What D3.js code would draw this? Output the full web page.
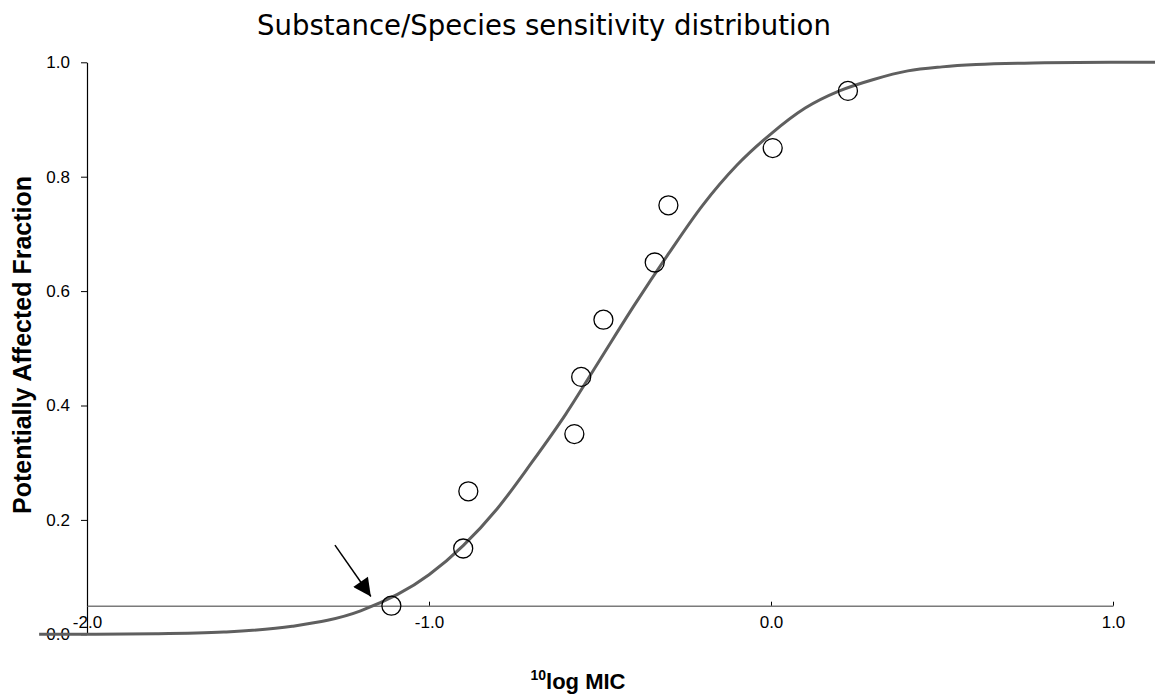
<!DOCTYPE html>
<html>
<head>
<meta charset="utf-8">
<script src="https://cdn.jsdelivr.net/npm/d3@7"></script>
<style>
  html, body { margin: 0; padding: 0; background: #fff; }
  svg { display: block; }
</style>
</head>
<body>
<svg id="chart" width="1155" height="695"></svg>
<script>
// ---- data ----
const titleText = "Substance/Species sensitivity distribution";
const yLabelText = "Potentially Affected Fraction";
const xLabelSup = "10";
const xLabelMain = "log MIC";

const xTicks = [-2, -1, 0, 1];
const yTicks = [0, 0.2, 0.4, 0.6, 0.8, 1.0];

// observed species points
const obsLogMIC   = [-1.11, -0.90, -0.885, -0.575, -0.555, -0.49, -0.34, -0.30, 0.005, 0.225];
const obsFraction = [0.05, 0.15, 0.25, 0.35, 0.45, 0.55, 0.65, 0.75, 0.85, 0.95];

// fitted distribution curve
const curveLogMIC   = [-2.14, -2.0, -1.8, -1.6, -1.4, -1.2, -1.0, -0.9, -0.8, -0.7, -0.6, -0.5, -0.4, -0.3, -0.2, -0.1, 0.0, 0.1, 0.2, 0.3, 0.4, 0.5, 0.6, 0.8, 1.0, 1.123];
const curveFraction = [0.0, 0.0002, 0.001, 0.004, 0.014, 0.041, 0.104, 0.155, 0.22, 0.30, 0.385, 0.48, 0.575, 0.665, 0.75, 0.82, 0.875, 0.92, 0.95, 0.97, 0.985, 0.992, 0.996, 0.999, 1.0, 1.0];

// HC5 level where the horizontal axis crosses
const hcLevel = [0.05];
// arrow pointing at HC5 (start, tip) in data units
const arrowLogMIC   = [-1.275, -1.170];
const arrowFraction = [0.156, 0.066];

// ---- chart ----
const svg = d3.select("#chart");
const x = d3.scaleLinear().domain([-2, 1]).range([87, 1113]);
const y = d3.scaleLinear().domain([0, 1]).range([634.3, 62.3]);
const fmt = d => d3.format(".1f")(d).replace("\u2212", "-");

// title
const title = svg.append("text")
  .attr("x", 544).attr("y", 35)
  .attr("text-anchor", "middle")
  .style("font-family", "'DejaVu Sans', sans-serif")
  .style("font-size", "26px")
  .style("fill", "#000")
  .text(titleText);
{
  const w = title.node().getComputedTextLength();
  title.style("font-size", (26 * 574 / w) + "px");
}

// y axis
const yAxis = d3.axisLeft(y).tickValues(yTicks).tickFormat(fmt)
  .tickSizeInner(6).tickSizeOuter(0).tickPadding(11);
const gy = svg.append("g").attr("transform", `translate(${x(-2)},0)`).call(yAxis);
gy.select(".domain").attr("stroke", "#000").attr("stroke-width", 1.2);
gy.selectAll(".tick line").attr("stroke", "#000").attr("stroke-width", 1);
gy.selectAll(".tick text")
  .style("font-family", "'Liberation Sans', Arial, sans-serif")
  .style("font-size", "17px").attr("fill", "#000");

// x axis at HC5 level
const xAxis = d3.axisBottom(x).tickValues(xTicks).tickFormat(fmt)
  .tickSizeInner(-4).tickSizeOuter(0).tickPadding(10);
const gx = svg.append("g").attr("transform", `translate(0,${y(hcLevel[0])})`).call(xAxis);
gx.select(".domain").attr("stroke", "#7a7a7a").attr("stroke-width", 1.5);
gx.selectAll(".tick line").attr("stroke", "#000").attr("stroke-width", 1);
gx.selectAll(".tick text")
  .style("font-family", "'Liberation Sans', Arial, sans-serif")
  .style("font-size", "17px").attr("fill", "#000");

// curve
const curveData = curveLogMIC.map((v, i) => [v, curveFraction[i]]);
svg.append("path")
  .datum(curveData)
  .attr("fill", "none")
  .attr("stroke", "#5f5f5f")
  .attr("stroke-width", 3)
  .attr("d", d3.line().x(d => x(d[0])).y(d => y(d[1])).curve(d3.curveMonotoneX));

// points
svg.append("g").selectAll("circle")
  .data(obsLogMIC.map((v, i) => [v, obsFraction[i]]))
  .join("circle")
  .attr("cx", d => x(d[0])).attr("cy", d => y(d[1]))
  .attr("r", 9.5)
  .attr("fill", "none")
  .attr("stroke", "#000")
  .attr("stroke-width", 1.3);

// arrow
svg.append("defs").append("marker")
  .attr("id", "ah").attr("viewBox", "0 0 10 10")
  .attr("refX", 10).attr("refY", 5)
  .attr("markerWidth", 20).attr("markerHeight", 18)
  .attr("markerUnits", "userSpaceOnUse")
  .attr("orient", "auto")
  .append("path").attr("d", "M0,0 L10,5 L0,10 Z").attr("fill", "#000");
svg.append("line")
  .attr("x1", x(arrowLogMIC[0])).attr("y1", y(arrowFraction[0]))
  .attr("x2", x(arrowLogMIC[1])).attr("y2", y(arrowFraction[1]))
  .attr("stroke", "#000").attr("stroke-width", 1.5)
  .attr("marker-end", "url(#ah)");

// y label
svg.append("text")
  .attr("transform", "translate(31,345) rotate(-90)")
  .attr("text-anchor", "middle")
  .style("font-family", "'Liberation Sans', Arial, sans-serif")
  .style("font-weight", "bold")
  .style("font-size", "25px")
  .text(yLabelText);

// x label with superscript
const xl = svg.append("text")
  .attr("x", 578).attr("y", 689)
  .attr("text-anchor", "middle")
  .style("font-family", "'Liberation Sans', Arial, sans-serif")
  .style("font-weight", "bold")
  .style("font-size", "22px");
xl.append("tspan").attr("dy", -9).style("font-size", "14px").text(xLabelSup);
xl.append("tspan").attr("dy", 9).text(xLabelMain);
</script>
</body>
</html>
